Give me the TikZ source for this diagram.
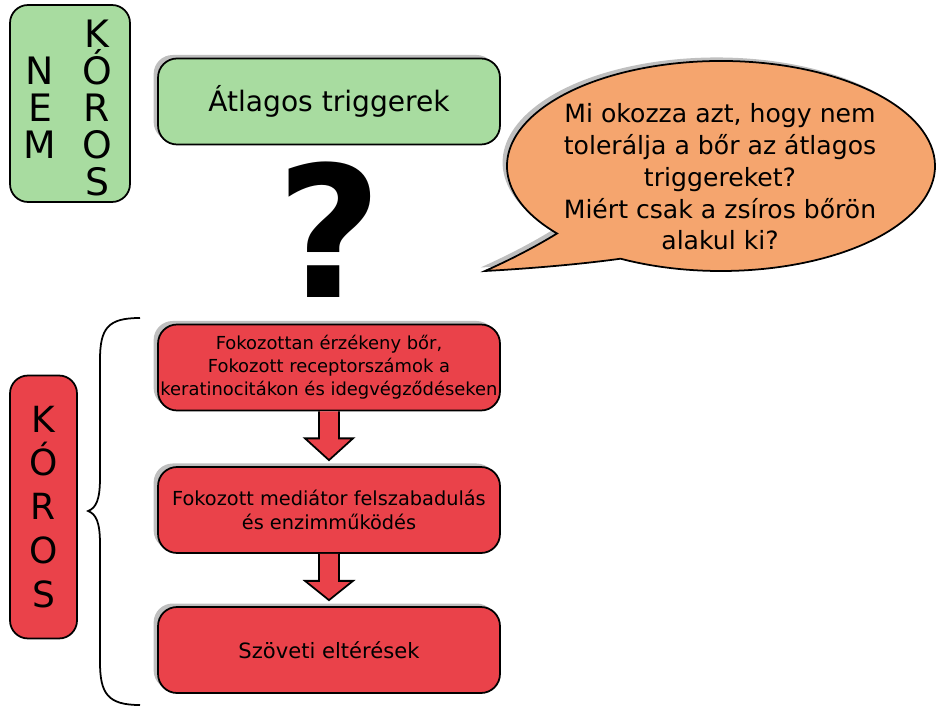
\documentclass[tikz,border=0pt]{standalone}
\usepackage{fontspec}
\setmainfont{DejaVu Sans}
\usepackage{tikz}
\usetikzlibrary{calc}
\usetikzlibrary{shadows}
\usepackage{xcolor}
\definecolor{paleGreen}{RGB}{168,220,160}
\definecolor{alarmRed}{RGB}{234,66,74}
\definecolor{bubbleOrange}{RGB}{245,165,110}

\begin{document}
\begin{tikzpicture}[x=0.02cm,y=-0.02cm,
		boxshadow/.style={drop shadow={shadow xshift=-2.5pt,shadow yshift=2pt,opacity=0.5}},
		flowbox/.style={draw=black,line width=1pt,rounded corners=0.38cm,minimum width=6.84cm,minimum height=1.72cm,align=center,inner sep=0pt,boxshadow},
		sidebox/.style={draw=black,line width=1pt,rounded corners=0.36cm,align=center,inner sep=0pt},
		letters/.style={align=center,inner sep=0pt,font=\fontsize{21.5}{21}\selectfont},
		blockarrow/.style={draw=black,line width=1pt,fill=alarmRed,line join=miter}]
			
			\useasboundingbox (0,0) rectangle (945,722);
			
			% nem koros label
			\node[sidebox,fill=paleGreen,minimum width=2.4cm,minimum height=3.94cm] (nemkorosbox) at (70,103.5) {};
			\node[letters] (nem) at (40,108) {N\\E\\M};
			\node[letters] (koros) at (97,108) {K\\Ó\\R\\O\\S};
			
			% top box
			\node[flowbox,fill=paleGreen,font=\fontsize{16}{19}\selectfont] (trig) at (329,101.5) {Átlagos triggerek};
			
			% question mark
			\node[inner sep=0pt,font=\fontsize{104}{104}\bfseries] (qmark) at (329,230) {?};
			
			% speech bubble
			\coordinate (tailtip) at (485,271);
			\path[draw=black,line width=1pt,fill=bubbleOrange,boxshadow] (tailtip)
				.. controls (540,268) and (590,263) .. (620.5,258.7)
				arc[start angle=118,end angle=-220,x radius=214,y radius=105]
				.. controls (530,250) and (505,262) .. (tailtip) -- cycle;
			\node[align=center,font=\fontsize{14.3}{18.1}\selectfont] (question) at (720,177) {Mi okozza azt, hogy nem\\tolerálja a bőr az átlagos\\triggereket?\\Miért csak a zsíros bőrön\\alakul ki?};
			
			% koros label
			\node[sidebox,fill=alarmRed,minimum width=1.34cm,minimum height=5.26cm,font=\fontsize{20.5}{25}\selectfont] (korosred) at (43.5,507) {K\\Ó\\R\\O\\S};
			
			% brace
			\draw[line width=1pt] (140,318) .. controls (108,318) and (100,328) .. (100,360) -- (100,478)
				.. controls (100,500) and (96,508) .. (88,511)
				.. controls (96,514) and (100,522) .. (100,544) -- (100,662)
				.. controls (100,694) and (108,705) .. (140,705);
			
			% red boxes
			\node[flowbox,fill=alarmRed,font=\fontsize{10.2}{13}\selectfont] (r1) at (329,367.5) {Fokozottan érzékeny bőr,\\Fokozott receptorszámok a\\keratinocitákon és idegvégződéseken};
			\node[flowbox,fill=alarmRed,font=\fontsize{11}{14}\selectfont] (r2) at (329,510) {Fokozott mediátor felszabadulás\\és enzimműködés};
			\node[flowbox,fill=alarmRed,font=\fontsize{12}{14}\selectfont] (r3) at (329,650) {Szöveti eltérések};
			
			% arrow r1 to r2
			\path[blockarrow] ($(r1.south)+(-10,0)$) -- ++(0,27) -- ++(-14,0) -- ($(r2.north)+(0,-6)$)
				-- ($(r1.south)+(24,27)$) -- ++(-14,0) -- ($(r1.south)+(10,0)$);
			
			% arrow r2 to r3
			\path[blockarrow] ($(r2.south)+(-10,0)$) -- ++(0,27) -- ++(-14,0) -- ($(r3.north)+(0,-6)$)
				-- ($(r2.south)+(24,27)$) -- ++(-14,0) -- ($(r2.south)+(10,0)$);
			
		\end{tikzpicture}
\end{document}
